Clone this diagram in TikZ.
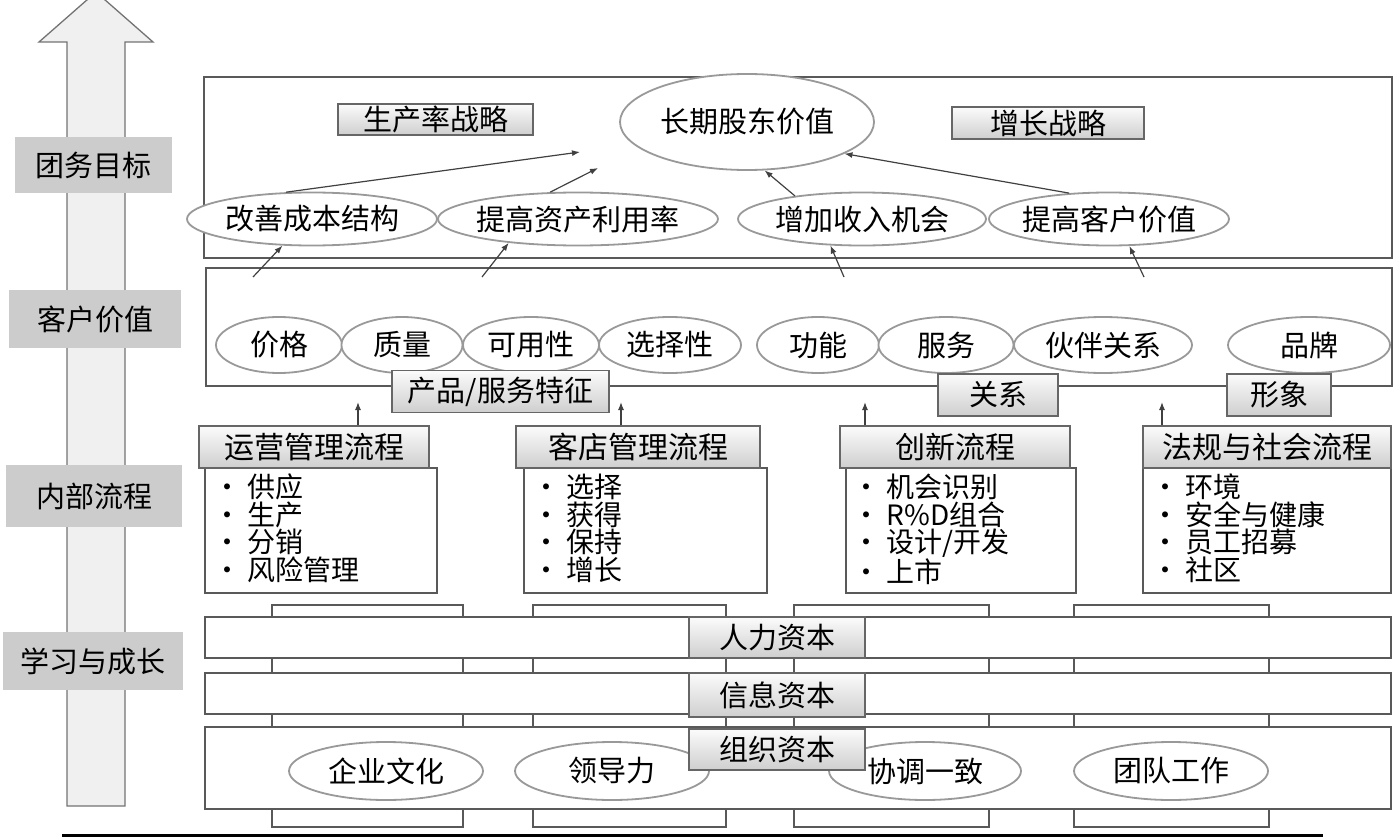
\documentclass[tikz,border=0pt]{standalone}
\usepackage{fontspec}
\setmainfont{Noto Sans CJK SC}
\usepackage{tikz}
\usetikzlibrary{shapes.geometric,arrows.meta}

\tikzset{
  frame/.style={draw=black!65,line width=1.5pt},
  oval/.style={ellipse,draw=black!40,line width=1.8pt,fill=white,inner sep=0pt,inner xsep=-6pt,
    font=\fontsize{29}{31}\selectfont},
  tagbox/.style={draw=black!60,line width=1.3pt,top color=gray!3,bottom color=gray!38,inner sep=0pt,
    font=\fontsize{29}{31}\selectfont},
  levelbox/.style={fill=gray!40,inner sep=0pt,font=\fontsize{29}{31}\selectfont},
  itemlist/.style={anchor=north west,align=left,inner sep=0pt,font=\fontsize{28}{27.5}\selectfont},
  link/.style={-{Latex[length=8pt,width=6pt]},line width=1.2pt,draw=black!75},
}

\begin{document}
\begin{tikzpicture}[x=1pt,y=-1pt]
\useasboundingbox (0,0) rectangle (1400,840);

% left arrow with the four levels
\draw[fill=gray!12,draw=black!55,line width=1.3pt] (67,806) -- (67,42) -- (39,42) -- (96,-8) -- (153,42) -- (125,42) -- (125,806) -- cycle;
\node[levelbox,minimum width=157pt,minimum height=56pt] (lvfin) at (93.5,165) {团务目标};
\node[levelbox,minimum width=172pt,minimum height=58pt] (lvcus) at (95,319) {客户价值};
\node[levelbox,minimum width=176pt,minimum height=62pt] (lvint) at (94,496) {内部流程};
\node[levelbox,minimum width=180pt,minimum height=58pt] (lvlrn) at (93,661) {学习与成长};

% financial
\draw[frame] (204,77) rectangle (1392,258);
\node[tagbox,minimum width=195pt,minimum height=31pt] (prodstr) at (435.5,119.5) {生产率战略};
\node[tagbox,minimum width=192pt,minimum height=32pt] (growstr) at (1048,123) {增长战略};
\node[oval,minimum width=254pt,minimum height=96pt] (shv) at (747,122) {长期股东价值};
\node[oval,minimum width=250pt,minimum height=53pt] (cost) at (312,219) {改善成本结构};
\node[oval,minimum width=280pt,minimum height=53pt] (asset) at (578,219) {提高资产利用率};
\node[oval,minimum width=248pt,minimum height=53pt] (revenue) at (862,219) {增加收入机会};
\node[oval,minimum width=240pt,minimum height=53pt] (custval) at (1109,219) {提高客户价值};

\coordinate (f1) at (580,152);
\coordinate (f2) at (598,168);
\draw[link] (cost.134) -- (f1);
\draw[link] (asset.136) -- (f2);
\draw[link] (revenue.161) -- (shv.290);
\draw[link] (custval.147) -- (shv.342);

% customer
\draw[frame] (206,268) rectangle (1392,386);
\node[oval,minimum width=126pt,minimum height=56pt] (price) at (279,345) {价格};
\node[oval,minimum width=121pt,minimum height=56pt] (quality) at (402,345) {质量};
\node[oval,minimum width=136pt,minimum height=56pt] (avail) at (531,345) {可用性};
\node[oval,minimum width=142pt,minimum height=56pt] (choice) at (670,345) {选择性};
\node[oval,minimum width=122pt,minimum height=56pt] (func) at (818,345) {功能};
\node[oval,minimum width=135pt,minimum height=56pt] (service) at (946,345) {服务};
\node[oval,minimum width=178pt,minimum height=56pt] (partner) at (1103,345) {伙伴关系};
\node[oval,minimum width=162pt,minimum height=56pt] (brand) at (1309,345) {品牌};
\node[tagbox,minimum width=217pt,minimum height=42pt] (attr) at (500.5,391.5) {产品/服务特征};
\node[tagbox,minimum width=120pt,minimum height=42pt] (relat) at (998,395) {关系};
\node[tagbox,minimum width=104pt,minimum height=42pt] (image) at (1279,395) {形象};

\coordinate (c1) at (253,277);
\coordinate (c2) at (482,277);
\coordinate (c3) at (844,277);
\coordinate (c4) at (1144,277);
\draw[link] (c1) -- (cost.222);
\draw[link] (c2) -- (asset.199);
\draw[link] (c3) -- (revenue.220);
\draw[link] (c4) -- (custval.307);

% internal processes
\draw[frame,fill=white] (205,468) rectangle (437,593);
\draw[frame,fill=white] (524,468) rectangle (767,593);
\draw[frame,fill=white] (846,468) rectangle (1076,593);
\draw[frame,fill=white] (1143,468) rectangle (1391,593);
\node[tagbox,minimum width=230pt,minimum height=42pt,font=\fontsize{30}{32}\selectfont] (opshead) at (314,447) {运营管理流程};
\node[tagbox,minimum width=244pt,minimum height=42pt,font=\fontsize{30}{32}\selectfont] (cushead) at (638,447) {客店管理流程};
\node[tagbox,minimum width=230pt,minimum height=42pt,font=\fontsize{30}{32}\selectfont] (innhead) at (955,447) {创新流程};
\node[tagbox,minimum width=248pt,minimum height=42pt,font=\fontsize{30}{32}\selectfont] (reghead) at (1267,447) {法规与社会流程};
\node[itemlist] (opslist) at (213,474) {· 供应\\· 生产\\· 分销\\· 风险管理};
\node[itemlist] (cuslist) at (532,474) {· 选择\\· 获得\\· 保持\\· 增长};
\node[itemlist] (innlist) at (852,474) {· 机会识别\\· R\%D组合\\· 设计/开发\\· 上市};
\node[itemlist] (reglist) at (1151,474) {· 环境\\· 安全与健康\\· 员工招募\\· 社区};

\coordinate (u1) at (358,402);
\coordinate (u2) at (621,402);
\coordinate (u3) at (865,402);
\coordinate (u4) at (1162,402);
\draw[link] (u1 |- opshead.north) -- (u1);
\draw[link] (u2 |- cushead.north) -- (u2);
\draw[link] (u3 |- innhead.north) -- (u3);
\draw[link] (u4 |- reghead.north) -- (u4);

% learning and growth
\foreach \a/\b in {272/463,533/726,794/989,1074/1269}
  \draw[frame] (\a,605) rectangle (\b,827);
\draw[frame,fill=white] (205,617) rectangle (1391,658);
\draw[frame,fill=white] (205,673) rectangle (1391,714);
\draw[frame,fill=white] (205,727) rectangle (1391,809);
\node[oval,minimum width=194pt,minimum height=58pt] (culture) at (386,771) {企业文化};
\node[oval,minimum width=194pt,minimum height=58pt] (leader) at (612,771) {领导力};
\node[oval,minimum width=192pt,minimum height=58pt] (align) at (925,771) {协调一致};
\node[oval,minimum width=194pt,minimum height=58pt] (team) at (1171,771) {团队工作};
\node[tagbox,minimum width=176pt,minimum height=41pt] (human) at (777,637.5) {人力资本};
\node[tagbox,minimum width=176pt,minimum height=44pt] (info) at (777,695) {信息资本};
\node[tagbox,minimum width=176pt,minimum height=41pt] (org) at (777,749.5) {组织资本};

\draw[line width=3pt] (62,835) -- (1323,835);
\end{tikzpicture}
\end{document}
